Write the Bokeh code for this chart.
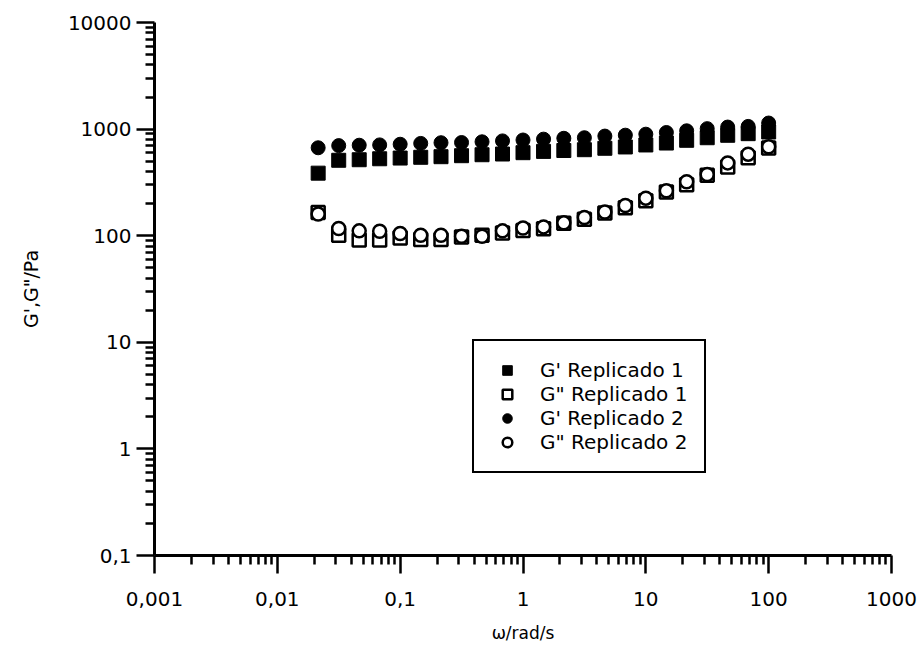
from bokeh.plotting import figure
from bokeh.models import Range1d, FixedTicker, CustomJSTickFormatter, Legend, LegendItem
from bokeh.embed import file_html
from bokeh.resources import INLINE

# angular frequency (rad/s)
omega = [0.0215, 0.0316, 0.0464, 0.0681, 0.1, 0.147, 0.215, 0.316, 0.464, 0.681,
         1.0, 1.47, 2.15, 3.16, 4.64, 6.81, 10.0, 14.7, 21.5, 31.6, 46.4, 68.1, 100.0]
# G' Replicado 1 (Pa)
g_storage_rep1 = [386, 510, 516, 527, 535, 544, 551, 563, 575, 584, 601, 618, 630,
                  641, 661, 680, 710, 740, 785, 830, 875, 906, 940]
# G'' Replicado 1 (Pa)
g_loss_rep1 = [165, 101, 91, 91, 95, 92, 92, 97, 101, 106, 112, 116, 131,
               143, 163, 183, 213, 257, 301, 369, 441, 539, 665]
# G' Replicado 2 (Pa)
g_storage_rep2 = [668, 700, 706, 711, 721, 734, 745, 748, 760, 775, 790, 805, 820,
                  830, 860, 877, 896, 929, 964, 1010, 1045, 1060, 1140]
# G'' Replicado 2 (Pa)
g_loss_rep2 = [160, 117, 111, 110, 105, 101, 101, 99, 99, 111, 118, 121, 132,
               148, 167, 192, 225, 264, 321, 375, 482, 582, 682]

x_ticks = [0.001, 0.01, 0.1, 1, 10, 100, 1000]
y_ticks = [0.1, 1, 10, 100, 1000, 10000]
series_labels = ["G' Replicado 1", 'G" Replicado 1', "G' Replicado 2", 'G" Replicado 2']

FONT = "DejaVu Sans"

p = figure(width=920, height=657, x_axis_type="log", y_axis_type="log",
           x_range=Range1d(0.001, 1000), y_range=Range1d(0.1, 10000),
           output_backend="svg", toolbar_location=None,
           min_border_left=154, min_border_right=29, min_border_top=22, min_border_bottom=102)
p.outline_line_color = None
p.xgrid.visible = False
p.ygrid.visible = False
p.background_fill_color = "white"
p.border_fill_color = "white"

x_minor = [m * 10.0 ** e for e in range(-3, 3) for m in range(2, 10)]
y_minor = [m * 10.0 ** e for e in range(-1, 4) for m in range(2, 10)]
p.xaxis.ticker = FixedTicker(ticks=x_ticks, minor_ticks=x_minor)
p.yaxis.ticker = FixedTicker(ticks=y_ticks, minor_ticks=y_minor)
p.xaxis.formatter = CustomJSTickFormatter(code="return tick.toString().replace('.', ',');")
p.yaxis.formatter = CustomJSTickFormatter(code="return tick.toString().replace('.', ',');")

for ax in (p.xaxis, p.yaxis):
    ax.axis_line_width = 3
    ax.axis_line_color = "black"
    ax.major_tick_in = 0
    ax.major_tick_out = 18
    ax.minor_tick_in = 0
    ax.minor_tick_out = 9
    ax.major_tick_line_width = 2.5
    ax.minor_tick_line_width = 2.5
    ax.major_tick_line_color = "black"
    ax.minor_tick_line_color = "black"
    ax.major_label_text_font = FONT
    ax.major_label_text_font_size = "20px"
    ax.major_label_text_color = "black"
    ax.axis_label_text_font = FONT
    ax.axis_label_text_font_style = "normal"
    ax.axis_label_text_color = "black"

p.xaxis.major_label_standoff = 18
p.yaxis.major_label_standoff = 5
p.xaxis.axis_label = "ω/rad/s"
p.xaxis.axis_label_text_font_size = "17px"
p.xaxis.axis_label_standoff = 14
p.yaxis.axis_label = 'G\',G"/Pa'
p.yaxis.axis_label_text_font_size = "19px"
p.yaxis.axis_label_standoff = 23

r1 = p.scatter(omega, g_storage_rep1, marker="square", size=14,
               fill_color="black", line_color="black", line_width=1)
r2 = p.scatter(omega, g_loss_rep1, marker="square", size=13,
               fill_color="white", line_color="black", line_width=2.5)
r3 = p.scatter(omega, g_storage_rep2, marker="circle", size=14,
               fill_color="black", line_color="black", line_width=1)
r4 = p.scatter(omega, g_loss_rep2, marker="circle", size=13,
               fill_color="white", line_color="black", line_width=2.5)

legend = Legend(items=[LegendItem(label=series_labels[0], renderers=[r1]),
                       LegendItem(label=series_labels[1], renderers=[r2]),
                       LegendItem(label=series_labels[2], renderers=[r3]),
                       LegendItem(label=series_labels[3], renderers=[r4])],
                location=(318, 82))
legend.glyph_width = 32
legend.glyph_height = 24
legend.label_height = 24
legend.spacing = 0
legend.padding = 17
legend.margin = 0
legend.label_standoff = 17
legend.label_text_font = FONT
legend.label_text_font_size = "20px"
legend.label_text_color = "black"
legend.border_line_color = "black"
legend.border_line_alpha = 1
legend.border_line_width = 2
legend.background_fill_color = "white"
legend.background_fill_alpha = 1
p.add_layout(legend)

open("out.html", "w").write(file_html(p, INLINE))
